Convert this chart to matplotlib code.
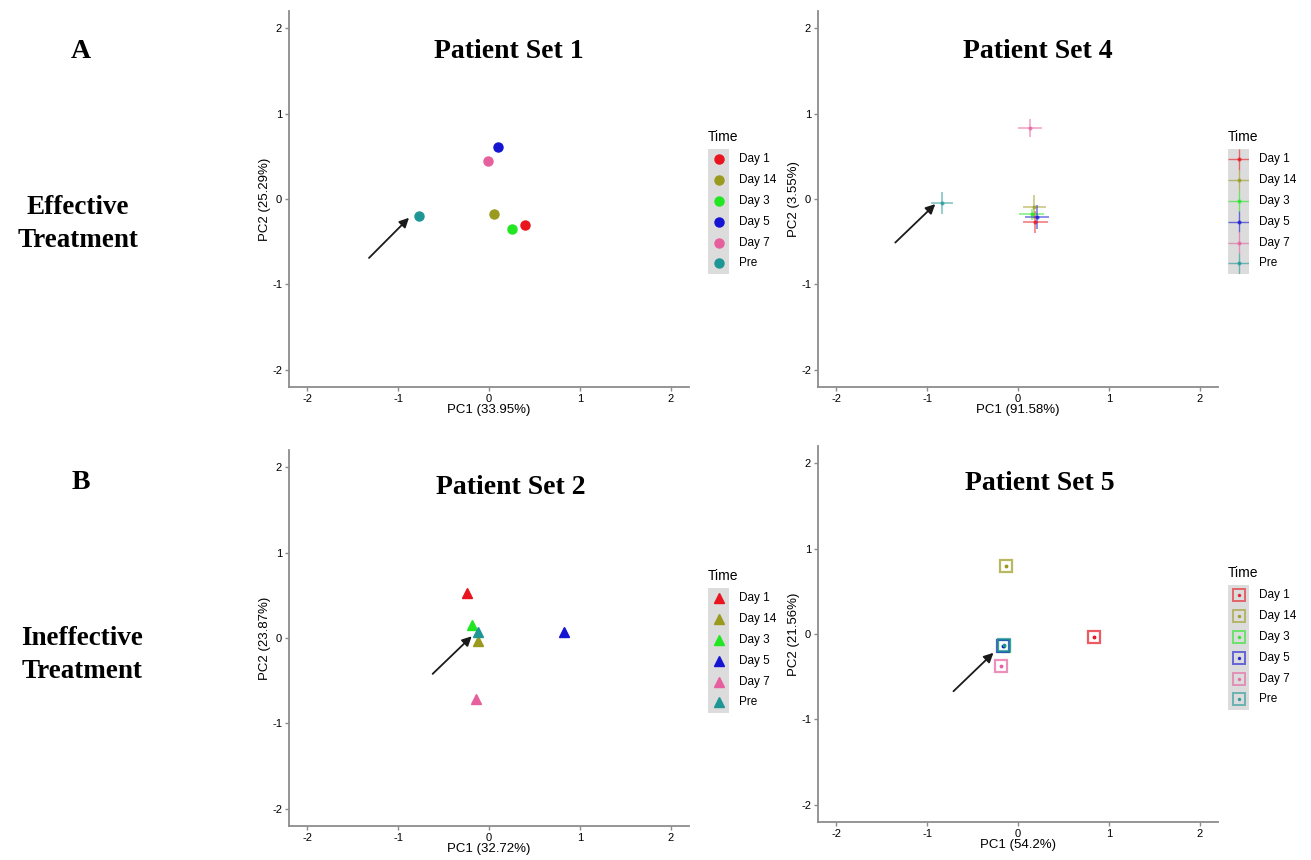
import numpy as np
import matplotlib
matplotlib.use("Agg")
from matplotlib import pyplot as plt
from matplotlib.patches import Rectangle

plt.rcParams["axes.unicode_minus"] = False

# ---- data ----
times = ["Day 1", "Day 14", "Day 3", "Day 5", "Day 7", "Pre"]
colors = ["#E8141E", "#9A9A1E", "#22E622", "#1414D2", "#E6609E", "#1E9696"]

# Patient Set 1 (effective)
set1_pc1 = [0.40, 0.05, 0.25, 0.10, -0.01, -0.77]
set1_pc2 = [-0.30, -0.18, -0.35, 0.61, 0.44, -0.20]

# Patient Set 4 (effective), with error bars
set4_pc1 = [0.19, 0.18, 0.15, 0.21, 0.13, -0.84]
set4_pc2 = [-0.27, -0.09, -0.18, -0.21, 0.83, -0.05]
set4_xerr = [0.14, 0.13, 0.14, 0.13, 0.13, 0.12]
set4_yerr = [0.13, 0.14, 0.06, 0.14, 0.11, 0.13]

# Patient Set 2 (ineffective)
set2_pc1 = [-0.24, -0.12, -0.19, 0.82, -0.14, -0.12]
set2_pc2 = [0.53, -0.03, 0.15, 0.07, -0.71, 0.07]

# Patient Set 5 (ineffective)
set5_pc1 = [0.84, -0.13, -0.15, -0.16, -0.19, -0.15]
set5_pc2 = [-0.03, 0.80, -0.14, -0.14, -0.38, -0.13]

titles = ["Patient Set 1", "Patient Set 4", "Patient Set 2", "Patient Set 5"]
pc1_labels = ["PC1 (33.95%)", "PC1 (91.58%)", "PC1 (32.72%)", "PC1 (54.2%)"]
pc2_labels = ["PC2 (25.29%)", "PC2 (3.55%)", "PC2 (23.87%)", "PC2 (21.56%)"]

# arrows pointing at the Pre sample: (x_start, y_start, x_end, y_end)
arrows = [(-1.32, -0.69, -0.88, -0.22),
          (-1.35, -0.51, -0.91, -0.06),
          (-0.62, -0.42, -0.19, 0.02),
          (-0.71, -0.67, -0.27, -0.22)]

W, H = 1311, 860
fig = plt.figure(figsize=(W / 100, H / 100), dpi=100)

sans = ["Liberation Sans", "DejaVu Sans"]
serif = ["Liberation Serif", "DejaVu Serif"]


def px_axes(l, t, r, b):
    return fig.add_axes([l / W, 1 - b / H, (r - l) / W, (b - t) / H])


def style_axes(ax, xlab, ylab):
    ax.set_xlim(-2.2, 2.2)
    ax.set_ylim(-2.2, 2.2)
    ax.set_xticks([-2, -1, 0, 1, 2])
    ax.set_yticks([-2, -1, 0, 1, 2])
    for s in ["top", "right"]:
        ax.spines[s].set_visible(False)
    for s in ["left", "bottom"]:
        ax.spines[s].set_color("#8c8c8c")
        ax.spines[s].set_linewidth(1.3)
    ax.tick_params(length=3, width=1, color="#8c8c8c", labelsize=8, pad=2)
    for lab in ax.get_xticklabels() + ax.get_yticklabels():
        lab.set_family(sans)
    ax.set_xlabel(xlab, fontsize=9.5, family=sans, labelpad=0)
    ax.set_ylabel(ylab, fontsize=9.5, family=sans, labelpad=1)


def draw_arrow(ax, a):
    ax.annotate("", xy=(a[2], a[3]), xytext=(a[0], a[1]),
                arrowprops=dict(arrowstyle="-|>", color="#1a1a1a", lw=1.3,
                                mutation_scale=14, shrinkA=0, shrinkB=0))


def legend(x, y_title, kind):
    fig.text(x / W, 1 - y_title / H, "Time", fontsize=10, family=sans,
             ha="left", va="center")
    top = y_title + 12
    lax = fig.add_axes([x / W, 1 - (top + 6 * 20.8) / H, 21 / W, 6 * 20.8 / H])
    lax.set_xlim(0, 1)
    lax.set_ylim(6, 0)
    lax.axis("off")
    lax.add_patch(Rectangle((0, 0), 1, 6, facecolor="#dcdcdc", edgecolor="none"))
    for i, (t, c) in enumerate(zip(times, colors)):
        yc = i + 0.5
        if kind == "circle":
            lax.plot(0.5, yc, "o", color=c, ms=6.5)
        elif kind == "triangle":
            lax.plot(0.5, yc, "^", color=c, ms=7)
        elif kind == "cross":
            lax.errorbar(0.5, yc, xerr=0.5, yerr=0.5, color=c, alpha=0.6,
                         lw=1, fmt=".", ms=4)
        else:
            lax.plot(0.5, yc, "s", mfc="none", mec=c, ms=8, mew=1.4, alpha=0.6)
            lax.plot(0.5, yc, ".", color=c, ms=3, alpha=0.8)
        fig.text((x + 31) / W, 1 - (top + (i + 0.5) * 20.8) / H, t,
                 fontsize=8.5, family=sans, ha="left", va="center")


# ---- panel A, Patient Set 1 ----
ax1 = px_axes(289, 11, 689, 387)
for x, y, c in zip(set1_pc1, set1_pc2, colors):
    ax1.plot(x, y, "o", color=c, ms=6.5)
draw_arrow(ax1, arrows[0])
style_axes(ax1, pc1_labels[0], pc2_labels[0])

# ---- panel A, Patient Set 4 ----
ax4 = px_axes(818, 11, 1218, 387)
for x, y, xe, ye, c in zip(set4_pc1, set4_pc2, set4_xerr, set4_yerr, colors):
    ax4.errorbar(x, y, xerr=xe, yerr=ye, color=c, alpha=0.6, lw=1.1,
                 fmt=".", ms=4)
draw_arrow(ax4, arrows[1])
style_axes(ax4, pc1_labels[1], pc2_labels[1])

# ---- panel B, Patient Set 2 ----
ax2 = px_axes(289, 450, 689, 826)
for x, y, c in zip(set2_pc1, set2_pc2, colors):
    ax2.plot(x, y, "^", color=c, ms=7.5)
draw_arrow(ax2, arrows[2])
style_axes(ax2, pc1_labels[2], pc2_labels[2])

# ---- panel B, Patient Set 5 ----
ax5 = px_axes(818, 446, 1218, 822)
for x, y, c in zip(set5_pc1, set5_pc2, colors):
    ax5.plot(x, y, "s", mfc="none", mec=c, ms=8, mew=1.6, alpha=0.7)
    ax5.plot(x, y, ".", color=c, ms=3.5)
draw_arrow(ax5, arrows[3])
style_axes(ax5, pc1_labels[3], pc2_labels[3])

# titles
for (cx, cy), t in zip([(509, 52), (1038, 52), (511, 487), (1040, 484)], titles):
    fig.text(cx / W, 1 - cy / H, t, fontsize=20, fontweight="bold",
             family=serif, ha="center", va="center")

# legends
legend(708, 137, "circle")
legend(1228, 137, "cross")
legend(708, 576, "triangle")
legend(1228, 573, "square")

# row labels
fig.text(81 / W, 1 - 52 / H, "A", fontsize=20, fontweight="bold",
         family=serif, ha="center", va="center")
fig.text(78 / W, 1 - 224 / H, "Effective\nTreatment", fontsize=19.5,
         fontweight="bold", family=serif, ha="center", va="center",
         linespacing=1.45)
fig.text(81 / W, 1 - 482 / H, "B", fontsize=20, fontweight="bold",
         family=serif, ha="center", va="center")
fig.text(82 / W, 1 - 655 / H, "Ineffective\nTreatment", fontsize=19.5,
         fontweight="bold", family=serif, ha="center", va="center",
         linespacing=1.45)

fig.savefig("out.png", dpi=100)
